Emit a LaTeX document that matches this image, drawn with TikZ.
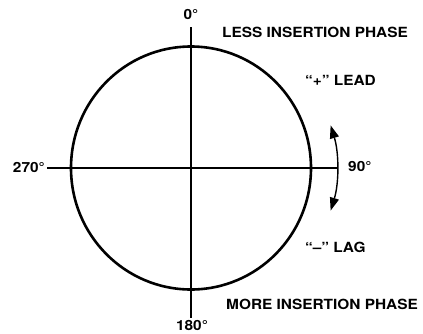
\documentclass[tikz,border=0pt]{standalone}
\usepackage{fontspec}
\setmainfont{TeX Gyre Heros}[FakeStretch=1.1]
\usetikzlibrary{arrows.meta}
\begin{document}
\begin{tikzpicture}[x=1pt,y=-1pt,
  lbl/.style={font=\fontsize{14}{16}\selectfont\bfseries, inner sep=0pt},
  axis/.style={line width=1.3pt},
  ring/.style={line width=2.6pt}]
\useasboundingbox (0,0) rectangle (423,333);
\coordinate (c) at (191,168);
\coordinate (top) at (191,27);
\coordinate (bot) at (191,318);
\coordinate (lft) at (47,168);
\coordinate (rgt) at (338,168);
\draw[ring] (c) ellipse [x radius=120, y radius=121.5];
\draw[axis] (top) -- (bot);
\draw[axis] (lft) -- (rgt);
\draw[line width=1.4pt, {Triangle[width=9pt,length=13pt]}-{Triangle[width=9pt,length=13pt]}]
  ([shift={(-17:146)}]c) arc[start angle=-17, end angle=17, radius=146];
\node[lbl] (n0) at (191,14) {0°};
\node[lbl, anchor=south] (n180) at (192,331) {180°};
\node[lbl, anchor=east] (n270) at (45,167) {270°};
\node[lbl, anchor=west] (n90) at (348,166) {90°};
\node[lbl, anchor=west] (less) at (222,32) {LESS INSERTION PHASE};
\node[lbl, anchor=west] (lead) at (305,80) {``+'' LEAD};
\node[lbl, anchor=west] (lag) at (305,247) {``--'' LAG};
\node[lbl, anchor=west] (more) at (226,304) {MORE INSERTION PHASE};
\end{tikzpicture}
\end{document}
